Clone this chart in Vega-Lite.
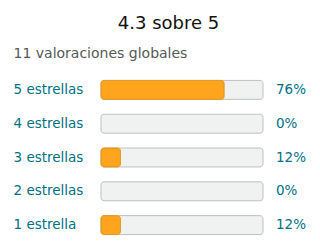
{
  "$schema": "https://vega.github.io/schema/vega-lite/v6.json",
  "autosize": "none",
  "width": 162,
  "height": 169,
  "padding": {"left": 101, "top": 73, "right": 57, "bottom": 10},
  "background": "white",
  "config": {"font": "DejaVu Sans", "view": {"stroke": null}},
  "data": {
    "values": [
      {"label": "5 estrellas", "share": 0.76},
      {"label": "4 estrellas", "share": 0},
      {"label": "3 estrellas", "share": 0.12},
      {"label": "2 estrellas", "share": 0},
      {"label": "1 estrella", "share": 0.12}
    ]
  },
  "encoding": {
    "y": {
      "field": "label",
      "type": "nominal",
      "sort": null,
      "scale": {"paddingInner": 0.44, "paddingOuter": 0.22},
      "axis": {
        "title": "11 valoraciones globales",
        "titleAngle": 0,
        "titleAlign": "left",
        "titleBaseline": "alphabetic",
        "titleX": -88,
        "titleY": -16,
        "titleFontSize": 14,
        "titleFontWeight": "normal",
        "titleColor": "#565959",
        "titleFont": "DejaVu Sans",
        "domain": false,
        "ticks": false,
        "labelAlign": "left",
        "labelPadding": 88,
        "labelFontSize": 13.5,
        "labelColor": "#007185",
        "labelFont": "DejaVu Sans"
      }
    }
  },
  "layer": [
    {
      "mark": {"type": "bar", "fill": "#F0F2F2", "stroke": "#BDC1C1", "strokeWidth": 1, "cornerRadius": 3},
      "encoding": {
        "x": {
          "datum": 1,
          "type": "quantitative",
          "scale": {"domain": [0, 1]},
          "axis": {
            "orient": "top",
            "title": "4.3 sobre 5",
            "titleAlign": "center",
            "titleBaseline": "alphabetic",
            "titleX": 67,
            "titleY": -45,
            "titleFontSize": 18,
            "titleFontWeight": "normal",
            "titleColor": "#111111",
            "titleFont": "DejaVu Sans",
            "domain": false,
            "ticks": false,
            "labels": false,
            "grid": false
          }
        }
      }
    },
    {
      "transform": [{"filter": "datum.share > 0"}],
      "mark": {"type": "bar", "fill": "#FFA41C", "stroke": "#E3991F", "strokeWidth": 1, "cornerRadius": 3},
      "encoding": {
        "x": {"field": "share", "type": "quantitative"}
      }
    },
    {
      "mark": {"type": "text", "align": "left", "dx": 13, "fontSize": 13.5, "color": "#007185"},
      "encoding": {
        "x": {"datum": 1, "type": "quantitative"},
        "text": {"field": "share", "type": "quantitative", "format": ".0%"}
      }
    }
  ]
}
